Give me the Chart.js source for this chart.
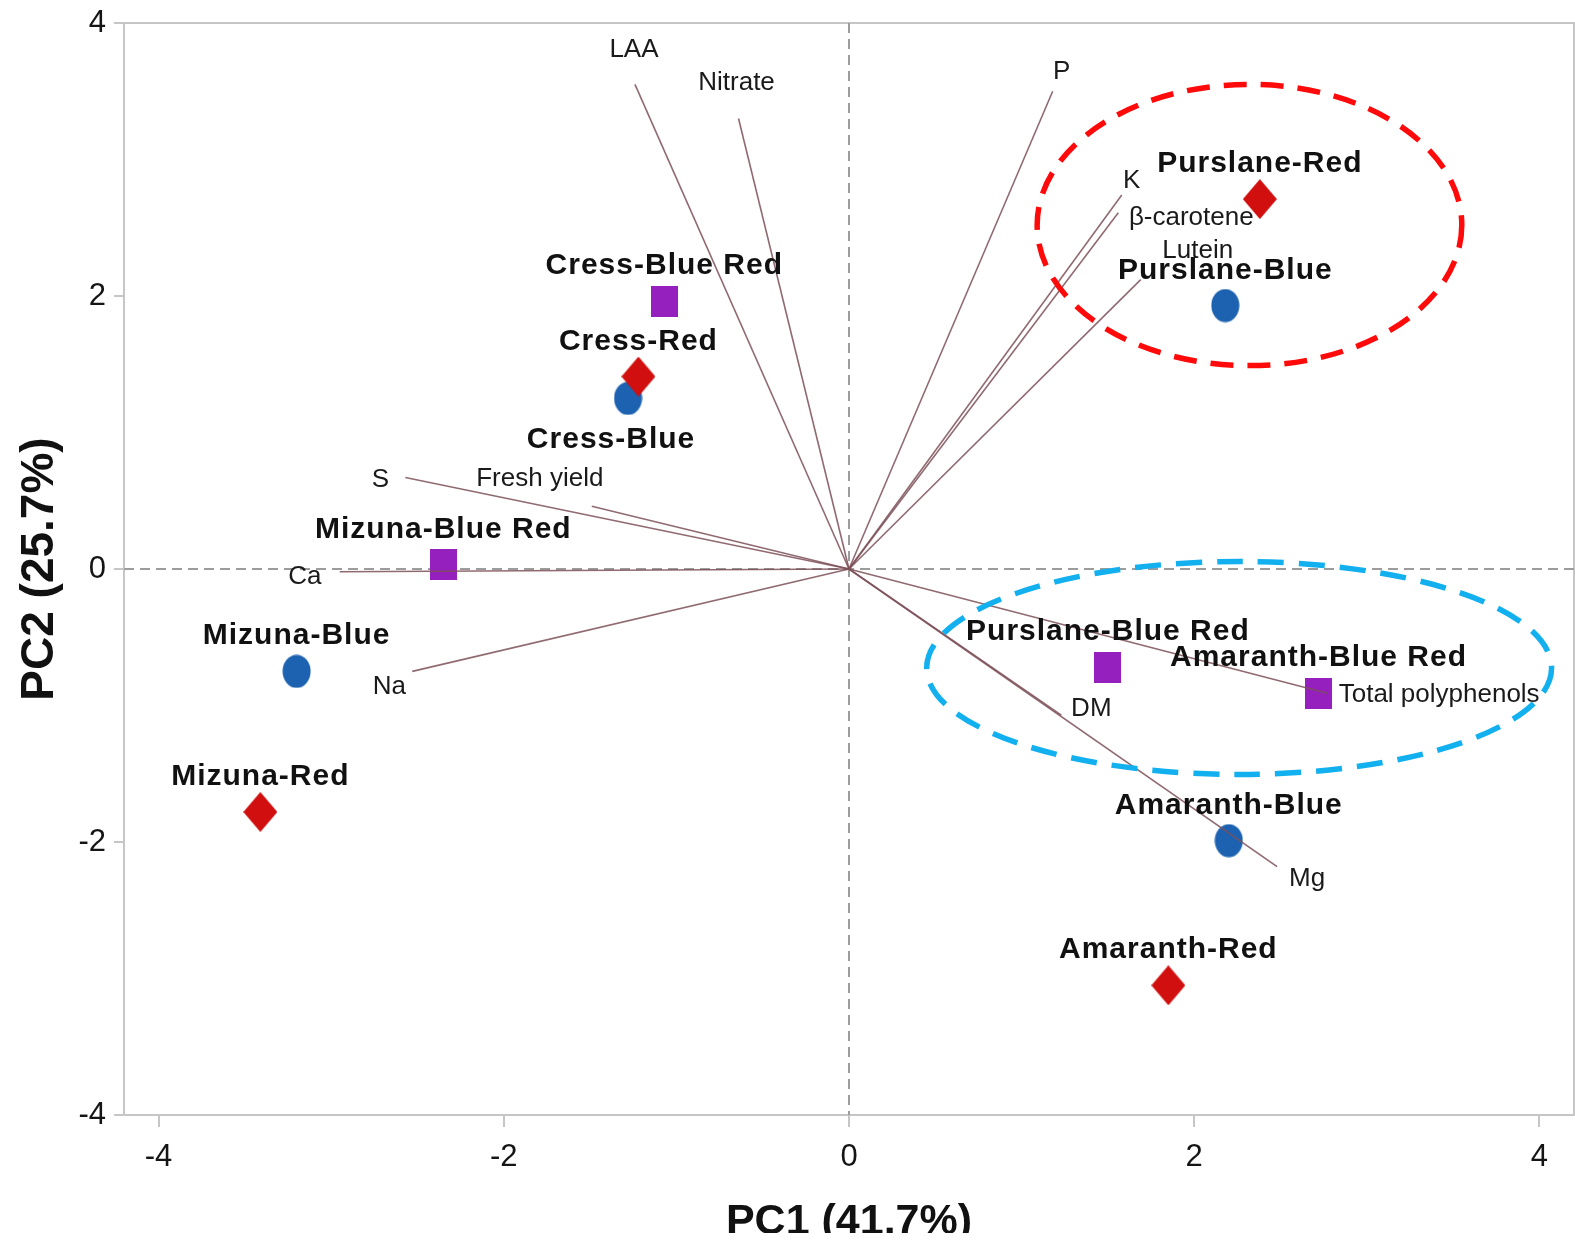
<!DOCTYPE html>
<html>
<head>
<meta charset="utf-8">
<script src="https://cdn.jsdelivr.net/npm/chart.js@4.4.1/dist/chart.umd.min.js"></script>
<style>
html,body{margin:0;padding:0;background:#ffffff;}
canvas{display:block;}
</style>
</head>
<body>
<canvas id="c" width="1575" height="1247"></canvas>
<script>
// ---------------- DATA ----------------
// Sample scores (PC1, PC2) grouped by light treatment
const redNames = ['Cress-Red', 'Mizuna-Red', 'Purslane-Red', 'Amaranth-Red'];
const redX = [-1.22, -3.41, 2.38, 1.85];
const redY = [1.41, -1.78, 2.71, -3.05];

const blueNames = ['Cress-Blue', 'Mizuna-Blue', 'Purslane-Blue', 'Amaranth-Blue'];
const blueX = [-1.28, -3.20, 2.18, 2.20];
const blueY = [1.25, -0.75, 1.93, -1.99];

const blueRedNames = ['Cress-Blue Red', 'Mizuna-Blue Red', 'Purslane-Blue Red', 'Amaranth-Blue Red'];
const blueRedX = [-1.07, -2.35, 1.50, 2.72];
const blueRedY = [1.96, 0.03, -0.72, -0.91];

// Variable loadings (vector end points)
const variables = ['LAA', 'Nitrate', 'P', 'K', 'β-carotene', 'Lutein', 'S', 'Fresh yield', 'Ca', 'Na', 'DM', 'Total polyphenols', 'Mg'];
const loadX = [-1.24, -0.64, 1.18, 1.58, 1.56, 1.69, -2.57, -1.49, -2.95, -2.53, 1.23, 2.77, 2.48];
const loadY = [3.55, 3.30, 3.50, 2.74, 2.61, 2.12, 0.67, 0.46, -0.02, -0.75, -1.07, -0.91, -2.18];

// Group ellipses (centre x, centre y, radius x, radius y) in PC units
const ellipseCX = [2.32, 2.26];
const ellipseCY = [2.52, -0.725];
const ellipseRX = [1.23, 1.81];
const ellipseRY = [1.03, 0.78];

// Axes
const xTicks = [-4, -2, 0, 2, 4];
const yTicks = [-4, -2, 0, 2, 4];
const xTitle = 'PC1 (41.7%)';
const yTitle = 'PC2 (25.7%)';

// ---------------- STYLE / LAYOUT ----------------
const FONT = '"Liberation Sans", Arial, Helvetica, sans-serif';
const AXIS_GRAY = '#c6c6c6';
const ZERO_GRAY = '#9c9c9c';
const VEC_COLOR = 'rgba(125,80,88,0.85)';
const ellipseColors = ['#ff0a0a', '#12b0ee'];
const ellipseDash = [[23, 14], [26, 15]];

// label placement (pixels relative to marker / vector end)
const sampleLabelDY = -38;
const sampleLabelNudge = { 'Cress-Blue': [-17, 39] };
const loadLabelOffset = {
  'LAA': [-1, -36], 'Nitrate': [-2, -38], 'P': [9, -21], 'K': [10, -16],
  'β-carotene': [73, 3], 'Lutein': [57, -31], 'S': [-25, 0], 'Fresh yield': [-52, -29],
  'Ca': [-35, 3], 'Na': [-23, 14], 'DM': [30, -8], 'Total polyphenols': [112, 0], 'Mg': [30, 10]
};

function makeMarker(shape, w, h, color) {
  const cv = document.createElement('canvas');
  cv.width = w; cv.height = h;
  const c = cv.getContext('2d');
  c.fillStyle = color;
  c.beginPath();
  if (shape === 'circle') {
    c.ellipse(w / 2, h / 2, w / 2 - 0.5, h / 2 - 0.5, 0, 0, Math.PI * 2);
  } else if (shape === 'diamond') {
    c.moveTo(w / 2, 0); c.lineTo(w, h / 2); c.lineTo(w / 2, h); c.lineTo(0, h / 2); c.closePath();
  } else {
    c.rect(0, 0, w, h);
  }
  c.fill();
  return cv;
}
const circleImg = makeMarker('circle', 29, 34, '#1c62b0');
const diamondImg = makeMarker('diamond', 34, 40, '#d10f0f');
const squareImg = makeMarker('square', 27, 31, '#9520bd');

const toPts = (xs, ys) => xs.map((v, i) => ({ x: v, y: ys[i] }));

// first dataset is drawn on top (red diamonds over blue circles)
const sampleDatasets = [
  { label: 'Red', names: redNames, data: toPts(redX, redY), pointStyle: diamondImg },
  { label: 'Blue', names: blueNames, data: toPts(blueX, blueY), pointStyle: circleImg },
  { label: 'Blue Red', names: blueRedNames, data: toPts(blueRedX, blueRedY), pointStyle: squareImg }
].map(d => Object.assign(d, { order: 2, showLine: false, pointRadius: 18, pointHoverRadius: 18, isSample: true }));

const vectorDatasets = variables.map((name, i) => ({
  label: name,
  data: [{ x: 0, y: 0 }, { x: loadX[i], y: loadY[i] }],
  showLine: true,
  borderColor: VEC_COLOR,
  borderWidth: 1.6,
  pointRadius: 0,
  pointHoverRadius: 0,
  order: 1,
  isVector: true
}));

const overlay = {
  id: 'overlay',
  beforeDatasetsDraw(chart) {
    const { ctx, chartArea: a, scales: { x, y } } = chart;
    ctx.save();
    // top & right frame
    ctx.strokeStyle = AXIS_GRAY; ctx.lineWidth = 2;
    ctx.beginPath();
    ctx.moveTo(a.left, a.top); ctx.lineTo(a.right, a.top); ctx.lineTo(a.right, a.bottom);
    ctx.stroke();
    // dashed zero lines
    const x0 = x.getPixelForValue(0), y0 = y.getPixelForValue(0);
    ctx.strokeStyle = ZERO_GRAY; ctx.lineWidth = 2; ctx.setLineDash([10, 6]);
    ctx.beginPath();
    ctx.moveTo(x0, a.top); ctx.lineTo(x0, a.bottom);
    ctx.moveTo(a.left, y0); ctx.lineTo(a.right, y0);
    ctx.stroke();
    ctx.restore();
  },
  afterDatasetsDraw(chart) {
    const { ctx, scales: { x, y } } = chart;
    ctx.save();
    // sample labels
    ctx.font = 'bold 30px ' + FONT;
    ctx.fillStyle = '#111111';
    ctx.textAlign = 'center';
    ctx.textBaseline = 'alphabetic';
    try { ctx.letterSpacing = '1px'; } catch (e) {}
    chart.data.datasets.forEach((ds, di) => {
      if (!ds.isSample) return;
      const meta = chart.getDatasetMeta(di);
      meta.data.forEach((pt, i) => {
        const name = ds.names[i];
        const nd = sampleLabelNudge[name] || [0, sampleLabelDY];
        ctx.fillText(name, pt.x + nd[0], pt.y + nd[1] + 11);
      });
    });
    try { ctx.letterSpacing = '0px'; } catch (e) {}
    // loading labels
    ctx.font = '26px ' + FONT;
    ctx.fillStyle = '#1a1a1a';
    chart.data.datasets.forEach((ds, di) => {
      if (!ds.isVector) return;
      const meta = chart.getDatasetMeta(di);
      const end = meta.data[1];
      const off = loadLabelOffset[ds.label] || [0, 0];
      ctx.fillText(ds.label, end.x + off[0], end.y + off[1] + 9);
    });
    // ellipses
    ellipseCX.forEach((cx, i) => {
      const px = x.getPixelForValue(cx), py = y.getPixelForValue(ellipseCY[i]);
      const rx = Math.abs(x.getPixelForValue(cx + ellipseRX[i]) - px);
      const ry = Math.abs(y.getPixelForValue(ellipseCY[i] + ellipseRY[i]) - py);
      ctx.strokeStyle = ellipseColors[i];
      ctx.lineWidth = 5.5;
      ctx.setLineDash(ellipseDash[i]);
      ctx.beginPath();
      ctx.ellipse(px, py, rx, ry, 0, 0, Math.PI * 2);
      ctx.stroke();
    });
    ctx.restore();
  },
  afterDraw(chart) {
    const { ctx, chartArea: a } = chart;
    ctx.save();
    ctx.fillStyle = '#111111';
    // y title
    ctx.font = 'bold 46px ' + FONT;
    ctx.textAlign = 'center';
    ctx.textBaseline = 'alphabetic';
    ctx.translate(36, (a.top + a.bottom) / 2);
    ctx.rotate(-Math.PI / 2);
    ctx.fillText(yTitle, 0, 16.5);
    ctx.restore();
    // x title (bottom of the original figure is cropped)
    ctx.save();
    ctx.beginPath();
    ctx.rect(0, 1150, chart.width, 83);
    ctx.clip();
    ctx.fillStyle = '#111111';
    ctx.font = 'bold 43px ' + FONT;
    ctx.textAlign = 'center';
    ctx.textBaseline = 'alphabetic';
    ctx.fillText(xTitle, chart.scales.x.getPixelForValue(0), 1234);
    ctx.restore();
  }
};

new Chart(document.getElementById('c'), {
  type: 'scatter',
  data: { datasets: [...sampleDatasets, ...vectorDatasets] },
  options: {
    responsive: false,
    animation: false,
    devicePixelRatio: 1,
    layout: { autoPadding: false, padding: { left: 0, top: 23, right: 1, bottom: 0 } },
    plugins: { legend: { display: false }, tooltip: { enabled: false } },
    events: [],
    scales: {
      x: {
        type: 'linear', position: 'bottom', min: -4.2, max: 4.2,
        afterBuildTicks: s => { s.ticks = xTicks.map(v => ({ value: v })); },
        afterFit: s => { s.height = 132; s.paddingLeft = 0; s.paddingRight = 0; },
        ticks: { font: { family: FONT, size: 31 }, color: '#151515', padding: 12, maxRotation: 0, autoSkip: false },
        grid: { drawOnChartArea: false, drawTicks: true, tickLength: 12, color: AXIS_GRAY, lineWidth: 2 },
        border: { display: true, color: AXIS_GRAY, width: 2 },
        title: { display: false }
      },
      y: {
        type: 'linear', position: 'left', min: -4, max: 4,
        afterBuildTicks: s => { s.ticks = yTicks.map(v => ({ value: v })); },
        afterFit: s => { s.width = 124; s.paddingTop = 0; s.paddingBottom = 0; },
        ticks: { font: { family: FONT, size: 31 }, color: '#151515', padding: 8, autoSkip: false },
        grid: { drawOnChartArea: false, drawTicks: true, tickLength: 10, color: AXIS_GRAY, lineWidth: 2 },
        border: { display: true, color: AXIS_GRAY, width: 2 },
        title: { display: false }
      }
    }
  },
  plugins: [overlay]
});
</script>
</body>
</html>
